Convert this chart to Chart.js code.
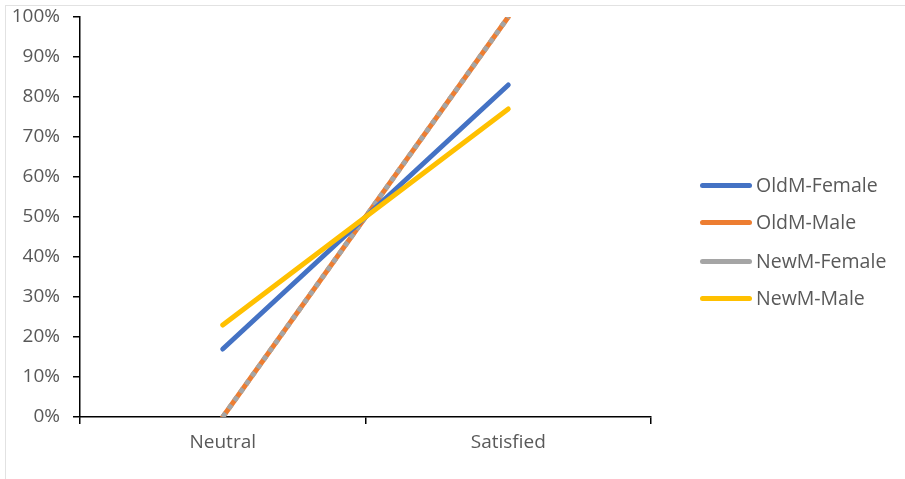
<!DOCTYPE html>
<html>
<head>
<meta charset="utf-8">
<script src="https://cdn.jsdelivr.net/npm/chart.js@4.4.1/dist/chart.umd.min.js"></script>
<style>
  body { margin: 0; background: #fff; }
  #wrap { position: relative; width: 905px; height: 479px; overflow: hidden; }
  #frame { position: absolute; left: 5px; top: 5px; right: -2px; bottom: -2px; border-left: 1px solid #e2e2e2; border-top: 1px solid #e2e2e2; }
  #legend { position: absolute; left: 700px; top: 0; font-family: "Open Sans", sans-serif; font-size: 19.5px; color: #595959; }
  .item { position: absolute; left: 0; white-space: nowrap; height: 24px; line-height: 24px; }
  .swatch { position: absolute; left: 0; top: 9px; width: 52px; height: 5px; border-radius: 3px; }
  .label { position: absolute; left: 56px; top: -1px; }
</style>
</head>
<body>
<div id="wrap">
  <div id="frame"></div>
  <canvas id="chart" width="905" height="479"></canvas>
  <div id="legend"></div>
</div>
<script>
// Categories and series values
const categories = ["Neutral", "Satisfied"];
const seriesNames = ["OldM-Female", "OldM-Male", "NewM-Female", "NewM-Male"];
const oldFemale = [0.17, 0.83];
const oldMale = [0, 1];
const newFemale = [0, 1];
const newMale = [0.23, 0.77];
const colors = ["#4472C4", "#ED7D31", "#A5A5A5", "#FFC000"];
const yTicks = [0, 0.1, 0.2, 0.3, 0.4, 0.5, 0.6, 0.7, 0.8, 0.9, 1];

const seriesValues = [oldFemale, oldMale, newFemale, newMale];
// lower order is drawn on top
const drawOrder = [2, 4, 3, 1];

const datasets = seriesNames.map((name, i) => {
  const dashed = name === "NewM-Female";
  return {
    label: name,
    data: seriesValues[i],
    borderColor: colors[i],
    backgroundColor: colors[i],
    borderWidth: 5,
    borderCapStyle: dashed ? "butt" : "round",
    borderDash: dashed ? [5, 5] : [],
    pointRadius: 0,
    tension: 0,
    order: drawOrder[i]
  };
});

const tickFont = { family: "Open Sans", size: 19 };

const ctx = document.getElementById("chart").getContext("2d");
new Chart(ctx, {
  type: "line",
  data: { labels: categories, datasets: datasets },
  options: {
    responsive: false,
    animation: false,
    layout: { padding: { left: 0, top: 17, right: 254, bottom: 0 } },
    plugins: { legend: { display: false }, tooltip: { enabled: false } },
    scales: {
      x: {
        offset: true,
        grid: { offset: true, drawOnChartArea: false, drawTicks: true, tickLength: 7, color: "#000", lineWidth: 1.5 },
        border: { color: "#000", width: 1.5 },
        ticks: { color: "#595959", font: tickFont, padding: 7 },
        afterFit: (scale) => { scale.height = 62; scale.paddingLeft = 0; scale.paddingRight = 0; }
      },
      y: {
        min: 0,
        max: 1,
        afterBuildTicks: (scale) => { scale.ticks = yTicks.map(v => ({ value: v })); },
        grid: { drawOnChartArea: false, drawTicks: true, tickLength: 7, color: "#000", lineWidth: 1.5 },
        border: { color: "#000", width: 1.5 },
        ticks: {
          color: "#595959",
          font: tickFont,
          padding: 13,
          callback: (v) => Math.round(v * 100) + "%"
        },
        afterFit: (scale) => { scale.width = 80; scale.paddingTop = 0; scale.paddingBottom = 0; }
      }
    }
  }
});

// Legend on the right
const legend = document.getElementById("legend");
const legendTops = [174, 211, 250, 287];
seriesNames.forEach((name, i) => {
  const item = document.createElement("div");
  item.className = "item";
  item.style.top = legendTops[i] + "px";
  item.innerHTML = `<div class="swatch" style="background:${colors[i]}"></div><span class="label">${name}</span>`;
  legend.appendChild(item);
});
</script>
</body>
</html>
